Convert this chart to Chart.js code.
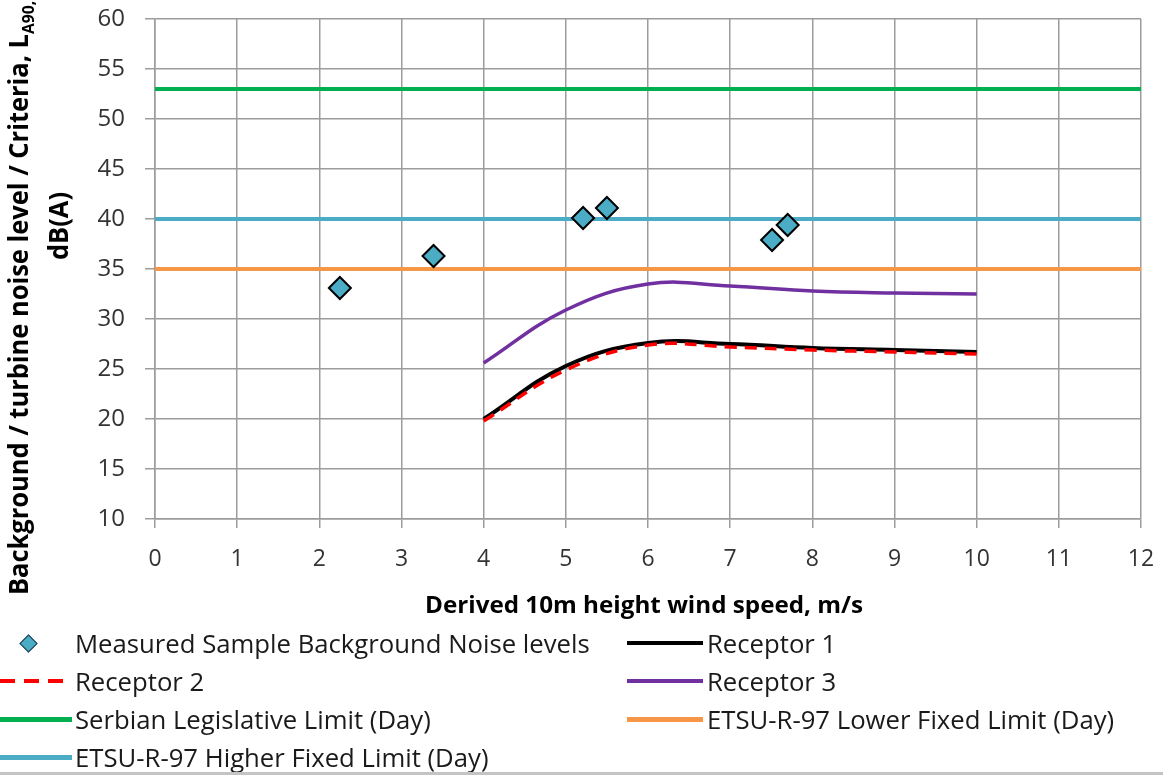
<!DOCTYPE html>
<html>
<head>
<meta charset="utf-8">
<script src="https://cdn.jsdelivr.net/npm/chart.js@4.4.0/dist/chart.umd.min.js"></script>
<style>
  html, body { margin: 0; padding: 0; background: #fff; }
  #wrap { position: relative; width: 1163px; height: 776px; overflow: hidden; font-family: 'Open Sans', sans-serif; }
  #wrap canvas { position: absolute; left: 0; top: 0; }
  .txt { position: absolute; white-space: nowrap; line-height: 30px; }
  .bold { font-weight: bold; color: #000; font-size: 24px; }
  .leg { font-size: 25px; color: #1a1a1a; transform-origin: left center; }
  .sample { position: absolute; }
  #bottomLine { position: absolute; left: 0; right: 0; top: 772px; height: 3px; background: #c4c4c4; }
</style>
</head>
<body>
<div id="wrap">
  <canvas id="noiseChart" width="1163" height="776"></canvas>

  <div id="yTitle1" class="txt bold" style="font-size:26px"><span id="yMain">Background / turbine noise level / Criteria, L</span><sub style="font-size:16px">A90,10min</sub></div>
  <div id="yTitle2" class="txt bold" style="font-size:26px">dB(A)</div>
  <div id="xTitle" class="txt bold">Derived 10m height wind speed, m/s</div>

  <div id="legend"></div>
  <div id="bottomLine"></div>
</div>

<script>
// wind speed (m/s) / level dB(A)
const measuredX = [2.25, 3.39, 5.21, 5.50, 7.51, 7.70];
const measuredY = [33.1, 36.3, 40.1, 41.1, 37.9, 39.4];

const windSpeed = [4, 5, 6, 7, 8, 9, 10];
const receptor1 = [20.0, 25.3, 27.6, 27.5, 27.1, 26.9, 26.7];
const receptor2 = [19.8, 24.9, 27.4, 27.2, 26.9, 26.7, 26.5];
const receptor3 = [25.6, 30.9, 33.5, 33.3, 32.8, 32.6, 32.5];

const limitX = [0, 12];
const serbianLimit = [53, 53];
const etsuLower = [35, 35];
const etsuHigher = [40, 40];

const xTicks = [0, 1, 2, 3, 4, 5, 6, 7, 8, 9, 10, 11, 12];
const yTicks = [10, 15, 20, 25, 30, 35, 40, 45, 50, 55, 60];

const legendLabels = [
  'Measured Sample Background Noise levels',
  'Receptor 1',
  'Receptor 2',
  'Receptor 3',
  'Serbian Legislative Limit (Day)',
  'ETSU-R-97 Lower Fixed Limit (Day)',
  'ETSU-R-97 Higher Fixed Limit (Day)'
];

const toPoints = (xs, ys) => xs.map((x, i) => ({ x: x, y: ys[i] }));

const gridColor = '#9c9c9c';
const tickColor = '#333333';

const lineSet = (label, xs, ys, color, width, order, extra) => Object.assign({
  label: label,
  data: toPoints(xs, ys),
  showLine: true,
  borderColor: color,
  backgroundColor: color,
  borderWidth: width,
  pointRadius: 0,
  tension: 0.4,
  fill: false,
  order: order
}, extra || {});

const chart = new Chart(document.getElementById('noiseChart'), {
  type: 'scatter',
  data: {
    datasets: [
      {
        label: legendLabels[0],
        data: toPoints(measuredX, measuredY),
        pointStyle: 'rectRot',
        pointRadius: 11,
        pointBackgroundColor: '#4bacc6',
        pointBorderColor: '#000',
        pointBorderWidth: 2,
        showLine: false,
        order: 0
      },
      lineSet(legendLabels[1], windSpeed, receptor1, '#000000', 4, 2),
      lineSet(legendLabels[2], windSpeed, receptor2, '#ff0000', 3.5, 1, { borderDash: [12, 8] }),
      lineSet(legendLabels[3], windSpeed, receptor3, '#7030a0', 3.5, 3),
      lineSet(legendLabels[4], limitX, serbianLimit, '#00b050', 4, 4, { tension: 0 }),
      lineSet(legendLabels[5], limitX, etsuLower, '#f79646', 4, 5, { tension: 0 }),
      lineSet(legendLabels[6], limitX, etsuHigher, '#4bacc6', 4, 6, { tension: 0 })
    ]
  },
  options: {
    responsive: false,
    animation: false,
    layout: { padding: { top: 19, right: 22, bottom: 197, left: 0 } },
    plugins: { legend: { display: false }, tooltip: { enabled: false } },
    scales: {
      x: {
        type: 'linear',
        min: 0, max: 12,
        afterFit: (s) => { s.height = 60; s.paddingLeft = 0; s.paddingRight = 0; },
        afterBuildTicks: (s) => { s.ticks = xTicks.map(v => ({ value: v })); },
        grid: { color: gridColor, lineWidth: 1.5, tickLength: 9, tickColor: gridColor },
        border: { color: gridColor, width: 1.5 },
        ticks: { font: { family: 'Open Sans', size: 23 }, color: tickColor, padding: 18 }
      },
      y: {
        min: 10, max: 60,
        afterFit: (s) => { s.width = 155; s.paddingTop = 0; s.paddingBottom = 0; },
        afterBuildTicks: (s) => { s.ticks = yTicks.map(v => ({ value: v })); },
        grid: { color: gridColor, lineWidth: 1.5, tickLength: 10, tickColor: gridColor },
        border: { color: gridColor, width: 1.5 },
        ticks: { font: { family: 'Open Sans', size: 24 }, color: tickColor, padding: 20 }
      }
    }
  }
});

// axis titles
const yTitle1 = document.getElementById('yTitle1');
const yMainW = document.getElementById('yMain').offsetWidth;
const ys = 561 / yMainW;
yTitle1.style.transformOrigin = 'left top';
yTitle1.style.left = '3px';
yTitle1.style.top = '595px';
yTitle1.style.transform = 'rotate(-90deg) scaleX(' + ys + ')';

const yTitle2 = document.getElementById('yTitle2');
const y2w = yTitle2.offsetWidth * ys;
yTitle2.style.transformOrigin = 'left top';
yTitle2.style.left = '43px';
yTitle2.style.top = (226 + y2w / 2) + 'px';
yTitle2.style.transform = 'rotate(-90deg) scaleX(' + ys + ')';

const xTitle = document.getElementById('xTitle');
const xs = 438 / xTitle.offsetWidth;
xTitle.style.transformOrigin = 'left center';
xTitle.style.left = (644 - 219) + 'px';
xTitle.style.top = (604 - 15) + 'px';
xTitle.style.transform = 'scaleX(' + xs + ')';

// legend, laid out in two columns as in the original
const legend = document.getElementById('legend');
const rows = [643, 681, 719, 757];
const cols = [75, 707];
const legendItems = [
  { col: 0, row: 0, kind: 'diamond' },
  { col: 1, row: 0, kind: 'line', color: '#000000', w: 4 },
  { col: 0, row: 1, kind: 'dash', color: '#ff0000', w: 4 },
  { col: 1, row: 1, kind: 'line', color: '#7030a0', w: 4 },
  { col: 0, row: 2, kind: 'line', color: '#00b050', w: 5 },
  { col: 1, row: 2, kind: 'line', color: '#f79646', w: 5 },
  { col: 0, row: 3, kind: 'line', color: '#4bacc6', w: 5 }
];
const spans = [];
legendItems.forEach((it, i) => {
  const cy = rows[it.row];
  const tx = cols[it.col];
  const sx = it.col === 0 ? 0 : 627;
  if (it.kind === 'diamond') {
    const d = document.createElement('div');
    d.className = 'sample';
    d.style.cssText = 'left:22px;top:' + (cy - 6) + 'px;width:11px;height:11px;background:#4bacc6;border:1px solid #1f3b4d;transform:rotate(45deg);';
    legend.appendChild(d);
  } else if (it.kind === 'dash') {
    const s = document.createElementNS('http://www.w3.org/2000/svg', 'svg');
    s.setAttribute('width', '72'); s.setAttribute('height', '10');
    s.style.cssText = 'position:absolute;left:0px;top:' + (cy - 5) + 'px;';
    s.innerHTML = '<line x1="0" y1="5" x2="70" y2="5" stroke="' + it.color + '" stroke-width="' + it.w + '" stroke-dasharray="15 9"/>';
    legend.appendChild(s);
  } else {
    const l = document.createElement('div');
    l.className = 'sample';
    l.style.cssText = 'left:' + sx + 'px;top:' + (cy - it.w / 2) + 'px;width:' + (sx ? 76 : 72) + 'px;height:' + it.w + 'px;background:' + it.color + ';';
    legend.appendChild(l);
  }
  const t = document.createElement('div');
  t.className = 'txt leg';
  t.textContent = legendLabels[i];
  t.style.left = tx + 'px';
  t.style.top = (cy - 15) + 'px';
  legend.appendChild(t);
  spans.push(t);
});
const ls = 515 / spans[0].offsetWidth;
spans.forEach(t => { t.style.transform = 'scaleX(' + ls + ')'; });
</script>
</body>
</html>
